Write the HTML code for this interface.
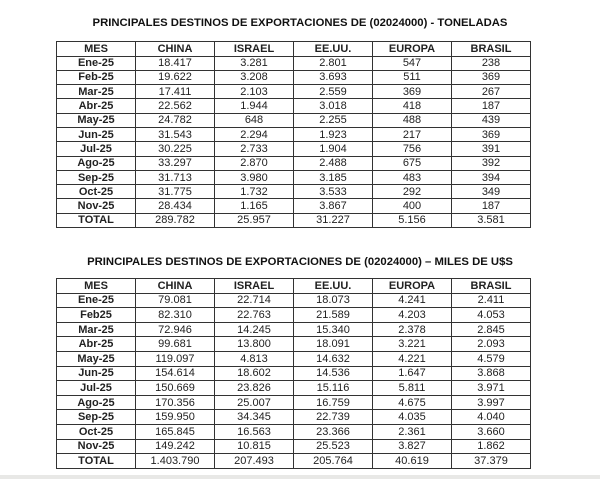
<!DOCTYPE html>
<html><head><meta charset="utf-8"><style>
body{margin:0;width:600px;height:479px;background:#fff;position:relative;overflow:hidden;font-family:"Liberation Sans",sans-serif;}
.t{position:absolute;left:0;width:600px;text-align:center;font-weight:bold;font-size:11.3px;color:#111;}
table{position:absolute;left:56px;border-collapse:collapse;font-size:11px;color:#222;}
td{border:1.3px solid #333;width:78px;text-align:center;padding:0;line-height:12px;}
td.b,tr.h td{font-weight:bold;}
.strip{position:absolute;left:0;top:475px;width:600px;height:4px;background:#e8e8e6;}
</style></head><body>
<div class="t" style="top:17px">PRINCIPALES DESTINOS DE EXPORTACIONES DE (02024000) - TONELADAS</div>
<table style="top:41px">
<tr class="h" style="height:14.5px"><td>MES</td><td>CHINA</td><td>ISRAEL</td><td>EE.UU.</td><td>EUROPA</td><td>BRASIL</td></tr>
<tr style="height:14.3px"><td class="b">Ene-25</td><td>18.417</td><td>3.281</td><td>2.801</td><td>547</td><td>238</td></tr>
<tr style="height:14.3px"><td class="b">Feb-25</td><td>19.622</td><td>3.208</td><td>3.693</td><td>511</td><td>369</td></tr>
<tr style="height:14.3px"><td class="b">Mar-25</td><td>17.411</td><td>2.103</td><td>2.559</td><td>369</td><td>267</td></tr>
<tr style="height:14.3px"><td class="b">Abr-25</td><td>22.562</td><td>1.944</td><td>3.018</td><td>418</td><td>187</td></tr>
<tr style="height:14.3px"><td class="b">May-25</td><td>24.782</td><td>648</td><td>2.255</td><td>488</td><td>439</td></tr>
<tr style="height:14.3px"><td class="b">Jun-25</td><td>31.543</td><td>2.294</td><td>1.923</td><td>217</td><td>369</td></tr>
<tr style="height:14.3px"><td class="b">Jul-25</td><td>30.225</td><td>2.733</td><td>1.904</td><td>756</td><td>391</td></tr>
<tr style="height:14.3px"><td class="b">Ago-25</td><td>33.297</td><td>2.870</td><td>2.488</td><td>675</td><td>392</td></tr>
<tr style="height:14.3px"><td class="b">Sep-25</td><td>31.713</td><td>3.980</td><td>3.185</td><td>483</td><td>394</td></tr>
<tr style="height:14.3px"><td class="b">Oct-25</td><td>31.775</td><td>1.732</td><td>3.533</td><td>292</td><td>349</td></tr>
<tr style="height:14.3px"><td class="b">Nov-25</td><td>28.434</td><td>1.165</td><td>3.867</td><td>400</td><td>187</td></tr>
<tr style="height:14.3px"><td class="b">TOTAL</td><td>289.782</td><td>25.957</td><td>31.227</td><td>5.156</td><td>3.581</td></tr>
</table>
<div class="t" style="top:256px">PRINCIPALES DESTINOS DE EXPORTACIONES DE (02024000) – MILES DE U$S</div>
<table style="top:278px">
<tr class="h" style="height:14.6px"><td>MES</td><td>CHINA</td><td>ISRAEL</td><td>EE.UU.</td><td>EUROPA</td><td>BRASIL</td></tr>
<tr style="height:14.6px"><td class="b">Ene-25</td><td>79.081</td><td>22.714</td><td>18.073</td><td>4.241</td><td>2.411</td></tr>
<tr style="height:14.6px"><td class="b">Feb25</td><td>82.310</td><td>22.763</td><td>21.589</td><td>4.203</td><td>4.053</td></tr>
<tr style="height:14.6px"><td class="b">Mar-25</td><td>72.946</td><td>14.245</td><td>15.340</td><td>2.378</td><td>2.845</td></tr>
<tr style="height:14.6px"><td class="b">Abr-25</td><td>99.681</td><td>13.800</td><td>18.091</td><td>3.221</td><td>2.093</td></tr>
<tr style="height:14.6px"><td class="b">May-25</td><td>119.097</td><td>4.813</td><td>14.632</td><td>4.221</td><td>4.579</td></tr>
<tr style="height:14.6px"><td class="b">Jun-25</td><td>154.614</td><td>18.602</td><td>14.536</td><td>1.647</td><td>3.868</td></tr>
<tr style="height:14.6px"><td class="b">Jul-25</td><td>150.669</td><td>23.826</td><td>15.116</td><td>5.811</td><td>3.971</td></tr>
<tr style="height:14.6px"><td class="b">Ago-25</td><td>170.356</td><td>25.007</td><td>16.759</td><td>4.675</td><td>3.997</td></tr>
<tr style="height:14.6px"><td class="b">Sep-25</td><td>159.950</td><td>34.345</td><td>22.739</td><td>4.035</td><td>4.040</td></tr>
<tr style="height:14.6px"><td class="b">Oct-25</td><td>165.845</td><td>16.563</td><td>23.366</td><td>2.361</td><td>3.660</td></tr>
<tr style="height:14.6px"><td class="b">Nov-25</td><td>149.242</td><td>10.815</td><td>25.523</td><td>3.827</td><td>1.862</td></tr>
<tr style="height:14.6px"><td class="b">TOTAL</td><td>1.403.790</td><td>207.493</td><td>205.764</td><td>40.619</td><td>37.379</td></tr>
</table>
<div class="strip"></div>
</body></html>
